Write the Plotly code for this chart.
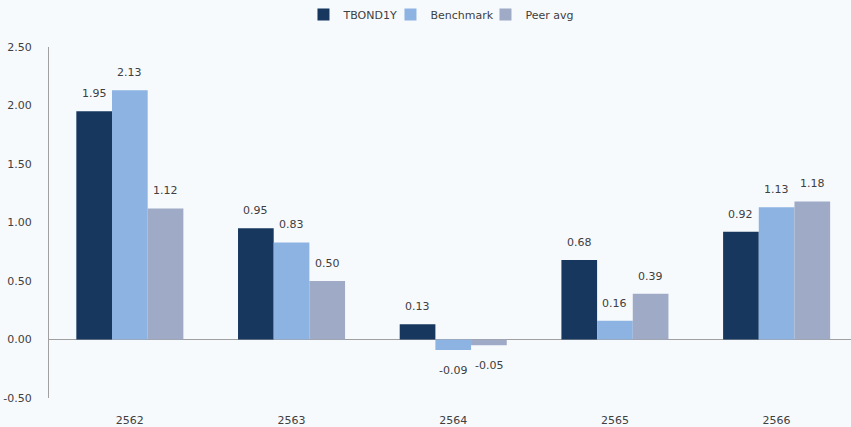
import plotly.graph_objects as go

years = ["2562", "2563", "2564", "2565", "2566"]
tbond = [1.95, 0.95, 0.13, 0.68, 0.92]
benchmark = [2.13, 0.83, -0.09, 0.16, 1.13]
peer = [1.12, 0.50, -0.05, 0.39, 1.18]
y_ticks = [-0.5, 0.0, 0.5, 1.0, 1.5, 2.0, 2.5]

names = ["TBOND1Y", "Benchmark", "Peer avg"]
colors = ["#17375e", "#8db3e2", "#9eaac6"]
legend_widths = [42, 50, 50]
bg = "#f7fafd"
font = "DejaVu Sans"
txt = "#404040"

W, H = 851, 427
ML, MR, MT, MB = 49, 0, 47, 29
x_range = [-0.5, 4.46]
bargap = 0.338
cat_px = (W - ML - MR) / (x_range[1] - x_range[0])
bar_px = cat_px * (1 - bargap) / 3

fig = go.Figure()
for name, vals, c, lw in zip(names, [tbond, benchmark, peer], colors, legend_widths):
    fig.add_trace(go.Bar(x=years, y=vals, name=name, marker_color=c, marker_line_width=0,
                         legendwidth=lw))

annotations = []
for i, vals in enumerate([tbond, benchmark, peer]):
    for j, v in enumerate(vals):
        annotations.append(dict(
            x=j, y=v, xref="x", yref="y", text=f"{v:.2f}", showarrow=False,
            xshift=(i - 1) * bar_px,
            yanchor="bottom" if v >= 0 else "top",
            yshift=9 if v >= 0 else -12,
            font=dict(size=11, color=txt, family=font),
        ))

fig.update_layout(
    width=W, height=H,
    paper_bgcolor=bg, plot_bgcolor=bg,
    margin=dict(l=ML, r=MR, t=MT, b=MB),
    barmode="group", bargap=bargap, bargroupgap=0,
    font=dict(family=font, size=11, color=txt),
    legend=dict(orientation="h", x=0.49, xanchor="center", y=1.0, yanchor="top",
                yref="container", font=dict(size=11, color=txt),
                itemwidth=30, traceorder="normal"),
    annotations=annotations,
)
fig.update_xaxes(type="category", range=x_range, showline=False, ticks="",
                 tickfont=dict(size=11, color=txt), showgrid=False, zeroline=False,
                 automargin=False, ticklabelstandoff=14)
fig.update_yaxes(range=[-0.5, 2.5], tickvals=y_ticks, ticktext=[f"{v:.2f}" for v in y_ticks],
                 showgrid=False, zeroline=True, zerolinecolor="#a0a0a0", zerolinewidth=1,
                 showline=True, linecolor="#a0a0a0", linewidth=1, ticks="",
                 tickfont=dict(size=11, color=txt), automargin=False, ticklabelstandoff=14)
fig.write_html("out.html", config={"displayModeBar": False},
               post_script="document.body.style.margin='0';document.body.style.background='" + bg + "';")
